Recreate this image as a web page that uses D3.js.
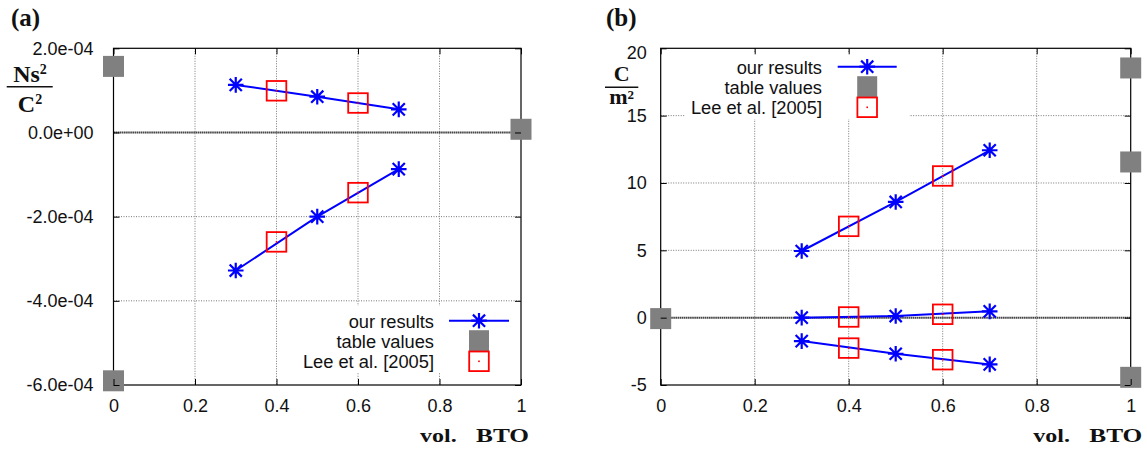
<!DOCTYPE html>
<html><head><meta charset="utf-8">
<script src="https://cdn.jsdelivr.net/npm/d3@7"></script>
<style>body{margin:0;background:#fff} svg{display:block}</style>
</head><body>
<svg id="c" width="1147" height="450"></svg>
<script>
// ---------- data ----------
const xTicks = [0, 0.2, 0.4, 0.6, 0.8, 1];
const xTickLabels = ["0", "0.2", "0.4", "0.6", "0.8", "1"];
const volOurs = [0.3, 0.5, 0.7];
const volLee = [0.4, 0.6];
const legendLabels = ["our results", "table values", "Lee et al. [2005]"];

// panel (a)
const aUpperOurs = [1.13e-4, 0.85e-4, 0.55e-4];
const aLowerOurs = [-3.28e-4, -2.0e-4, -0.87e-4];
const aUpperLee = [0.99e-4, 0.70e-4];
const aLowerLee = [-2.60e-4, -1.43e-4];
const aTableX = [0, 0, 1];
const aTableY = [1.57e-4, -5.9e-4, 0.076e-4];
const aYTicks = [2e-4, 0, -2e-4, -4e-4, -6e-4];
const aYTickLabels = ["2.0e-04", "0.0e+00", "-2.0e-04", "-4.0e-04", "-6.0e-04"];

// panel (b)
const bTopOurs = [4.95, 8.59, 12.43];
const bMidOurs = [0.0, 0.12, 0.47];
const bBotOurs = [-1.74, -2.68, -3.47];
const bTopLee = [6.78, 10.52];
const bMidLee = [0.05, 0.25];
const bBotLee = [-2.26, -3.12];
const bTableX = [0, 1, 1, 1];
const bTableY = [-0.07, 18.54, 11.56, -4.43];
const bYTicks = [20, 15, 10, 5, 0, -5];
const bYTickLabels = ["20", "15", "10", "5", "0", "-5"];

// ---------- drawing ----------
const svg = d3.select("#c");
const SANS = "'Liberation Sans', Arial, Helvetica, sans-serif";
const SERIF = "'Liberation Serif', 'Times New Roman', serif";
const BLUE = "#0000ff", RED = "#ff0000", GRAY = "#808080";

function starPath(r) {
  const d = r * 0.78;
  return `M${-r},0H${r}M0,${-r}V${r}M${-d},${-d}L${d},${d}M${-d},${d}L${d},${-d}`;
}

function drawPanel(cfg) {
  const x = d3.scaleLinear().domain([0, 1]).range([cfg.left, cfg.right]);
  const y = d3.scaleLinear().domain(cfg.yDomain).range([cfg.bottom, cfg.top]);
  const g = svg.append("g");

  // grid
  g.append("g").selectAll("line").data(xTicks.filter(v => v > 0 && v < 1)).join("line")
    .attr("x1", d => x(d)).attr("x2", d => x(d))
    .attr("y1", cfg.top).attr("y2", cfg.bottom)
    .attr("stroke", "#777").attr("stroke-width", 1).attr("stroke-dasharray", "1,1.5");
  g.append("g").selectAll("line")
    .data(cfg.yTicks.filter(v => v !== 0 && v > cfg.yDomain[0] && v < cfg.yDomain[1])).join("line")
    .attr("x1", cfg.left).attr("x2", cfg.right)
    .attr("y1", d => y(d)).attr("y2", d => y(d))
    .attr("stroke", "#777").attr("stroke-width", 1).attr("stroke-dasharray", "1,1.5");
  // zero axis
  g.append("line").attr("x1", cfg.left).attr("x2", cfg.right)
    .attr("y1", y(0)).attr("y2", y(0))
    .attr("stroke", "#444").attr("stroke-width", 2).attr("stroke-dasharray", "1.6,0.5");

  // legend background
  const L = cfg.legend;
  g.append("rect").attr("x", L.box[0]).attr("y", L.box[1])
    .attr("width", L.box[2] - L.box[0]).attr("height", L.box[3] - L.box[1]).attr("fill", "#fff");

  // series lines
  const line = d3.line().x(d => x(d[0])).y(d => y(d[1]));
  cfg.ours.forEach(s => {
    const pts = volOurs.map((v, i) => [v, s[i]]);
    g.append("path").attr("d", line(pts)).attr("fill", "none")
      .attr("stroke", BLUE).attr("stroke-width", 2);
    g.append("g").selectAll("path").data(pts).join("path")
      .attr("transform", d => `translate(${x(d[0])},${y(d[1])})`)
      .attr("d", starPath(7.8)).attr("stroke", BLUE).attr("stroke-width", 2.2).attr("fill", "none");
  });
  cfg.lee.forEach(s => {
    const pts = volLee.map((v, i) => [v, s[i]]);
    const sg = g.append("g").selectAll("g").data(pts).join("g")
      .attr("transform", d => `translate(${x(d[0])},${y(d[1])})`);
    sg.append("rect").attr("x", -9.8).attr("y", -9.8).attr("width", 19.6).attr("height", 19.6)
      .attr("fill", "none").attr("stroke", RED).attr("stroke-width", 1.8);
    sg.append("rect").attr("x", -0.8).attr("y", -0.8).attr("width", 1.6).attr("height", 1.6).attr("fill", RED);
  });

  // border
  g.append("rect").attr("x", cfg.left).attr("y", cfg.top)
    .attr("width", cfg.right - cfg.left).attr("height", cfg.bottom - cfg.top)
    .attr("fill", "none").attr("stroke", "#000").attr("stroke-width", 1.2);

  // table values
  g.append("g").selectAll("rect").data(cfg.tableX.map((v, i) => [v, cfg.tableY[i]])).join("rect")
    .attr("x", d => x(d[0]) - 10.5).attr("y", d => y(d[1]) - 10.5)
    .attr("width", 21).attr("height", 21).attr("fill", GRAY);

  // axes
  const styleAxis = sel => {
    sel.select(".domain").remove();
    sel.selectAll(".tick line").attr("stroke", "#000").attr("stroke-width", 1);
    sel.selectAll("text").attr("font-family", SANS).attr("font-size", 18).attr("fill", "#111");
  };
  g.append("g").attr("transform", `translate(0,${cfg.bottom})`)
    .call(d3.axisBottom(x).tickValues(xTicks).tickFormat((d, i) => xTickLabels[i])
      .tickSizeInner(-6).tickSizeOuter(0).tickPadding(14)).call(styleAxis);
  g.append("g").attr("transform", `translate(0,${cfg.top})`)
    .call(d3.axisTop(x).tickValues(xTicks).tickFormat("").tickSizeInner(-6).tickSizeOuter(0)).call(styleAxis);
  const la = g.append("g").attr("transform", `translate(${cfg.left},0)`)
    .call(d3.axisLeft(y).tickValues(cfg.yTicks).tickFormat((d, i) => cfg.yLabels[i])
      .tickSizeInner(-6).tickSizeOuter(0).tickPadding(cfg.yPad)).call(styleAxis);
  if (cfg.topDy) la.selectAll(".tick").filter(d => d === cfg.yDomain[1]).select("text").attr("dy", cfg.topDy);
  g.append("g").attr("transform", `translate(${cfg.right},0)`)
    .call(d3.axisRight(y).tickValues(cfg.yTicks).tickFormat("").tickSizeInner(-6).tickSizeOuter(0)).call(styleAxis);

  // legend content
  g.append("g").selectAll("text").data(legendLabels).join("text")
    .attr("x", L.textRight).attr("y", (d, i) => L.rows[i]).attr("dy", "0.38em")
    .attr("text-anchor", "end").attr("font-family", SANS).attr("font-size", 18.3).attr("fill", "#111")
    .text(d => d);
  const sx = (L.x0 + L.x1) / 2;
  g.append("line").attr("x1", L.x0).attr("x2", L.x1).attr("y1", L.rows[0]).attr("y2", L.rows[0])
    .attr("stroke", BLUE).attr("stroke-width", 2);
  g.append("path").attr("transform", `translate(${sx},${L.rows[0]})`).attr("d", starPath(7.8))
    .attr("stroke", BLUE).attr("stroke-width", 2.2).attr("fill", "none");
  g.append("rect").attr("x", sx - 10).attr("y", L.rows[1] - 10.5).attr("width", 20).attr("height", 21).attr("fill", GRAY);
  g.append("rect").attr("x", sx - 9.8).attr("y", L.rows[2] - 9.8).attr("width", 19.6).attr("height", 19.6)
    .attr("fill", "none").attr("stroke", RED).attr("stroke-width", 1.8);
  g.append("rect").attr("x", sx - 0.8).attr("y", L.rows[2] - 0.8).attr("width", 1.6).attr("height", 1.6).attr("fill", RED);

  // panel label
  svg.append("text").attr("x", cfg.tag[0]).attr("y", cfg.tag[1])
    .attr("font-family", SERIF).attr("font-weight", "bold").attr("font-size", 25).attr("fill", "#111")
    .text(cfg.tagText);

  // x axis title
  svg.append("text").attr("x", cfg.xt).attr("y", 441.5).attr("font-family", SERIF).attr("font-weight", "bold")
    .attr("font-size", 18).attr("textLength", 36.7).attr("lengthAdjust", "spacingAndGlyphs").attr("fill", "#111").text("vol.");
  svg.append("text").attr("x", cfg.xt + 56).attr("y", 441.5).attr("font-family", SERIF).attr("font-weight", "bold")
    .attr("font-size", 18).attr("textLength", 53).attr("lengthAdjust", "spacingAndGlyphs").attr("fill", "#111").text("BTO");

  // unit fraction
  const f = cfg.frac;
  const num = svg.append("text").attr("x", f.cx).attr("y", f.numY).attr("text-anchor", "middle")
    .attr("font-family", SERIF).attr("font-weight", "bold").attr("font-size", f.size).attr("fill", "#111");
  num.append("tspan").text(f.num[0]);
  if (f.num[1]) num.append("tspan").attr("dy", -f.supUp).attr("font-size", f.supSize).text(f.num[1]);
  svg.append("line").attr("x1", f.bar[0]).attr("x2", f.bar[1]).attr("y1", f.barY).attr("y2", f.barY)
    .attr("stroke", "#111").attr("stroke-width", 1.6);
  const den = svg.append("text").attr("x", f.cx).attr("y", f.denY).attr("text-anchor", "middle")
    .attr("font-family", SERIF).attr("font-weight", "bold").attr("font-size", f.size).attr("fill", "#111");
  den.append("tspan").text(f.den[0]);
  if (f.den[1]) den.append("tspan").attr("dy", -f.supUp).attr("font-size", f.supSize).text(f.den[1]);
}

drawPanel({
  left: 113.5, right: 521, top: 48.3, bottom: 385,
  yDomain: [-6e-4, 2e-4], yTicks: aYTicks, yLabels: aYTickLabels, yPad: 20, topDy: null,
  ours: [aUpperOurs, aLowerOurs], lee: [aUpperLee, aLowerLee],
  tableX: aTableX, tableY: aTableY,
  legend: { textRight: 434, x0: 449, x1: 509, rows: [320.7, 340.7, 361.3], box: [295, 306, 520, 373] },
  tag: [11, 26], tagText: "(a)", xt: 420,
  frac: { cx: 30, numY: 81.7, num: ["Ns", "2"], bar: [6.7, 52.7], barY: 86.7, denY: 111.7, den: ["C", "2"],
          size: 24, supSize: 14, supUp: 8 }
});
drawPanel({
  left: 660.7, right: 1130.7, top: 48.3, bottom: 385,
  yDomain: [-5, 20], yTicks: bYTicks, yLabels: bYTickLabels, yPad: 14, topDy: "0.55em",
  ours: [bTopOurs, bMidOurs, bBotOurs], lee: [bTopLee, bMidLee, bBotLee],
  tableX: bTableX, tableY: bTableY,
  legend: { textRight: 822, x0: 837.7, x1: 896.7, rows: [66.7, 86.7, 107.3], box: [685, 52, 909, 119] },
  tag: [606, 26], tagText: "(b)", xt: 1033.3,
  frac: { cx: 621.7, numY: 81, num: ["C", ""], bar: [605, 638.3], barY: 87.3, denY: 103.5, den: ["m", "2"],
          size: 22, supSize: 13, supUp: 5 }
});
</script>
</body></html>
